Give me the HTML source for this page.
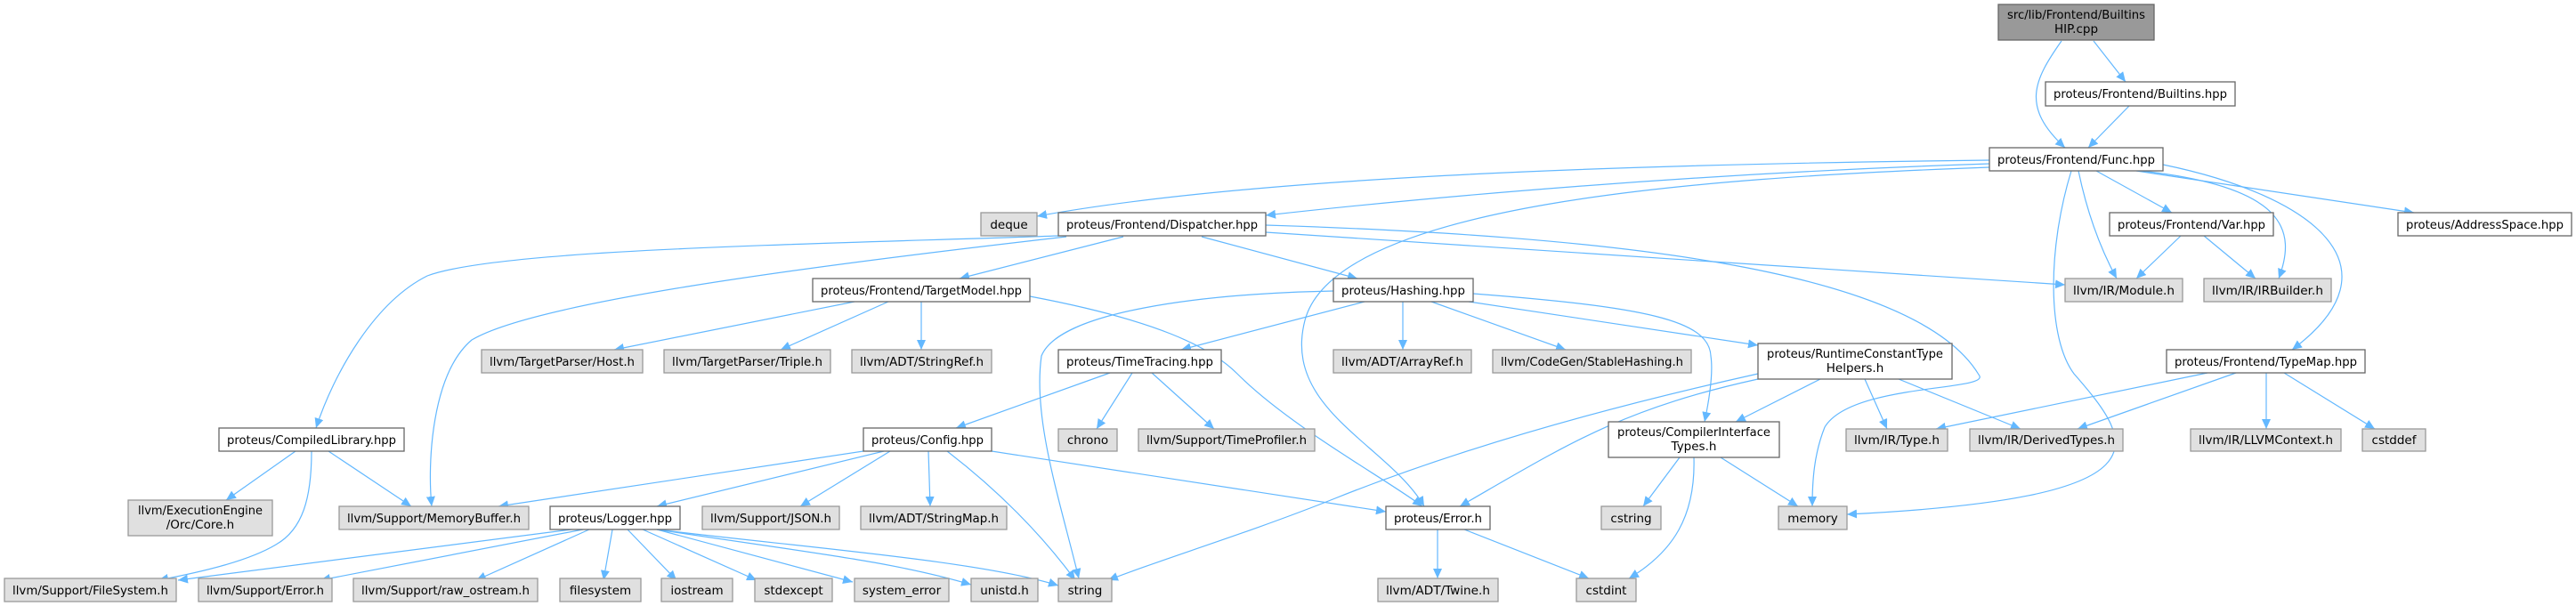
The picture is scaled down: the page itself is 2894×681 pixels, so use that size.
<!DOCTYPE html>
<html><head><meta charset="utf-8"><style>
html,body{margin:0;padding:0;background:#fff;}
svg{display:block;}
text{font-family:"DejaVu Sans","Liberation Sans",sans-serif;font-size:13.5px;fill:#000;}
.w{fill:#fff;stroke:#666;stroke-width:1.3;}
.g{fill:#e0e0e0;stroke:#999;stroke-width:1.3;}
.d{fill:#999;stroke:#666;stroke-width:1.3;}
.e{fill:none;stroke:#63b8ff;stroke-width:1.2;marker-end:url(#a);}
</style></head><body>
<svg width="2894" height="681" viewBox="0 0 2894 681" xmlns="http://www.w3.org/2000/svg">
<defs><marker id="a" markerUnits="userSpaceOnUse" markerWidth="12" markerHeight="10" refX="11" refY="5" orient="auto"><path d="M0,0 L11,5 L0,10 z" fill="#63b8ff"/></marker></defs>

<!-- edges -->
<path class="e" d="M2316,46 C2285,90 2270,120 2320,166"/>
<path class="e" d="M2352,46 L2388,92"/>
<path class="e" d="M2392,119 L2346,166"/>
<path class="e" d="M2235,180 C1800,185 1400,200 1165,243"/>
<path class="e" d="M2235,184 C1900,195 1600,222 1422,242"/>
<path class="e" d="M2235,188 C1900,200 1500,230 1466,360 C1440,460 1560,500 1600,569"/>
<path class="e" d="M2335,192 C2345,240 2360,280 2378,313"/>
<path class="e" d="M2327,192 C2300,280 2300,380 2330,420 C2400,500 2440,560 2075,578"/>
<path class="e" d="M2355,192 L2440,239"/>
<path class="e" d="M2405,192 C2570,210 2580,260 2560,313"/>
<path class="e" d="M2400,192 L2712,239"/>
<path class="e" d="M2430,185 C2600,220 2700,300 2575,393"/>
<path class="e" d="M2450,265 L2400,313"/>
<path class="e" d="M2476,265 L2534,313"/>

<path class="e" d="M1189,265 C900,275 560,280 480,310 C420,340 375,420 355,481"/>
<path class="e" d="M1198,266 C900,300 600,340 530,382 C485,420 480,520 485,569"/>
<path class="e" d="M1262,266 L1078,313"/>
<path class="e" d="M1350,266 L1525,313"/>
<path class="e" d="M1422,261 L2320,320"/>
<path class="e" d="M1422,253 C1800,265 2150,300 2223,421 C2240,440 2080,430 2050,480 C2038,510 2036,540 2036,569"/>

<path class="e" d="M960,339 L690,393"/>
<path class="e" d="M998,339 L877,393"/>
<path class="e" d="M1035,339 L1035,393"/>
<path class="e" d="M1157,333 C1300,360 1360,390 1390,420 C1450,480 1560,540 1598,569"/>

<path class="e" d="M1498,327 C1350,330 1190,350 1170,400 C1160,470 1190,560 1212,650"/>
<path class="e" d="M1533,339 L1327,393"/>
<path class="e" d="M1576,339 L1576,393"/>
<path class="e" d="M1608,339 L1759,393"/>
<path class="e" d="M1650,339 L1975,388"/>
<path class="e" d="M1655,330 C1850,345 1920,360 1922,400 C1925,420 1920,450 1915,474"/>

<path class="e" d="M1247,419 L1074,481"/>
<path class="e" d="M1272,419 L1232,482"/>
<path class="e" d="M1294,419 L1364,482"/>

<path class="e" d="M1975,420 C1750,470 1600,520 1500,560 C1400,600 1300,630 1245,652"/>
<path class="e" d="M1975,426 C1820,460 1760,500 1640,569"/>
<path class="e" d="M2045,426 L1950,474"/>
<path class="e" d="M2095,426 L2120,482"/>
<path class="e" d="M2133,426 L2270,482"/>

<path class="e" d="M2480,419 L2175,482"/>
<path class="e" d="M2512,419 L2334,482"/>
<path class="e" d="M2546,419 L2546,482"/>
<path class="e" d="M2566,419 L2668,482"/>

<path class="e" d="M1887,514 L1846,569"/>
<path class="e" d="M1903,514 C1905,580 1880,620 1830,650"/>
<path class="e" d="M1933,514 L2020,569"/>

<path class="e" d="M332,507 L254,562"/>
<path class="e" d="M369,507 L462,569"/>
<path class="e" d="M350,507 C350,560 340,595 310,612 C280,630 230,642 178,652"/>

<path class="e" d="M970,507 L560,569"/>
<path class="e" d="M993,507 L738,569"/>
<path class="e" d="M1000,507 L899,569"/>
<path class="e" d="M1043,507 L1045,569"/>
<path class="e" d="M1064,507 C1120,550 1170,600 1208,652"/>
<path class="e" d="M1114,507 L1557,575"/>

<path class="e" d="M642,595 L200,652"/>
<path class="e" d="M655,595 L360,652"/>
<path class="e" d="M662,595 L535,652"/>
<path class="e" d="M688,595 L678,652"/>
<path class="e" d="M705,595 L760,652"/>
<path class="e" d="M722,595 L850,652"/>
<path class="e" d="M738,595 L958,654"/>
<path class="e" d="M738,595 C900,620 1000,630 1091,657"/>
<path class="e" d="M738,595 C900,615 1100,630 1189,658"/>

<path class="e" d="M1615,595 L1615,650"/>
<path class="e" d="M1645,595 L1785,650"/>

<!-- nodes -->
<g>
<rect class="d" x="2245" y="5" width="175" height="40"/>
<text x="2332.5" y="21" text-anchor="middle" textLength="155" lengthAdjust="spacingAndGlyphs">src/lib/Frontend/Builtins</text>
<text x="2332.5" y="37" text-anchor="middle">HIP.cpp</text>

<rect class="w" x="2298" y="92" width="213" height="27"/><text x="2404.5" y="110" text-anchor="middle" textLength="195" lengthAdjust="spacingAndGlyphs">proteus/Frontend/Builtins.hpp</text>
<rect class="w" x="2235" y="166" width="195" height="26"/><text x="2332.5" y="184" text-anchor="middle" textLength="177" lengthAdjust="spacingAndGlyphs">proteus/Frontend/Func.hpp</text>

<rect class="g" x="1102" y="239" width="63" height="26"/><text x="1133.5" y="257" text-anchor="middle">deque</text>
<rect class="w" x="1189" y="239" width="233" height="26"/><text x="1305.5" y="257" text-anchor="middle" textLength="215" lengthAdjust="spacingAndGlyphs">proteus/Frontend/Dispatcher.hpp</text>
<rect class="w" x="2370" y="239" width="184" height="26"/><text x="2462" y="257" text-anchor="middle" textLength="166" lengthAdjust="spacingAndGlyphs">proteus/Frontend/Var.hpp</text>
<rect class="w" x="2694" y="239" width="195" height="26"/><text x="2791.5" y="257" text-anchor="middle" textLength="177" lengthAdjust="spacingAndGlyphs">proteus/AddressSpace.hpp</text>

<rect class="w" x="913" y="313" width="244" height="26"/><text x="1035" y="331" text-anchor="middle" textLength="226" lengthAdjust="spacingAndGlyphs">proteus/Frontend/TargetModel.hpp</text>
<rect class="w" x="1498" y="313" width="157" height="26"/><text x="1576.5" y="331" text-anchor="middle" textLength="139" lengthAdjust="spacingAndGlyphs">proteus/Hashing.hpp</text>
<rect class="g" x="2320" y="313" width="132" height="26"/><text x="2386" y="331" text-anchor="middle" textLength="114" lengthAdjust="spacingAndGlyphs">llvm/IR/Module.h</text>
<rect class="g" x="2476" y="313" width="143" height="26"/><text x="2547.5" y="331" text-anchor="middle" textLength="125" lengthAdjust="spacingAndGlyphs">llvm/IR/IRBuilder.h</text>

<rect class="g" x="541" y="393" width="181" height="26"/><text x="631.5" y="411" text-anchor="middle" textLength="163" lengthAdjust="spacingAndGlyphs">llvm/TargetParser/Host.h</text>
<rect class="g" x="746" y="393" width="187" height="26"/><text x="839.5" y="411" text-anchor="middle" textLength="169" lengthAdjust="spacingAndGlyphs">llvm/TargetParser/Triple.h</text>
<rect class="g" x="957" y="393" width="157" height="26"/><text x="1035.5" y="411" text-anchor="middle" textLength="139" lengthAdjust="spacingAndGlyphs">llvm/ADT/StringRef.h</text>
<rect class="w" x="1189" y="393" width="183" height="26"/><text x="1280.5" y="411" text-anchor="middle" textLength="165" lengthAdjust="spacingAndGlyphs">proteus/TimeTracing.hpp</text>
<rect class="g" x="1498" y="393" width="155" height="26"/><text x="1575.5" y="411" text-anchor="middle" textLength="137" lengthAdjust="spacingAndGlyphs">llvm/ADT/ArrayRef.h</text>
<rect class="g" x="1677" y="393" width="223" height="26"/><text x="1788.5" y="411" text-anchor="middle" textLength="205" lengthAdjust="spacingAndGlyphs">llvm/CodeGen/StableHashing.h</text>
<rect class="w" x="1975" y="386" width="218" height="40"/>
<text x="2084" y="402" text-anchor="middle" textLength="198" lengthAdjust="spacingAndGlyphs">proteus/RuntimeConstantType</text>
<text x="2084" y="418" text-anchor="middle">Helpers.h</text>
<rect class="w" x="2434" y="393" width="223" height="26"/><text x="2545.5" y="411" text-anchor="middle" textLength="205" lengthAdjust="spacingAndGlyphs">proteus/Frontend/TypeMap.hpp</text>

<rect class="w" x="246" y="481" width="208" height="26"/><text x="350" y="499" text-anchor="middle" textLength="190" lengthAdjust="spacingAndGlyphs">proteus/CompiledLibrary.hpp</text>
<rect class="w" x="970" y="481" width="144" height="26"/><text x="1042" y="499" text-anchor="middle" textLength="126" lengthAdjust="spacingAndGlyphs">proteus/Config.hpp</text>
<rect class="g" x="1189" y="482" width="66" height="25"/><text x="1222" y="499" text-anchor="middle">chrono</text>
<rect class="g" x="1279" y="482" width="198" height="25"/><text x="1378" y="499" text-anchor="middle" textLength="180" lengthAdjust="spacingAndGlyphs">llvm/Support/TimeProfiler.h</text>
<rect class="w" x="1807" y="474" width="192" height="40"/>
<text x="1903" y="490" text-anchor="middle" textLength="172" lengthAdjust="spacingAndGlyphs">proteus/CompilerInterface</text>
<text x="1903" y="506" text-anchor="middle">Types.h</text>
<rect class="g" x="2074" y="482" width="114" height="25"/><text x="2131" y="499" text-anchor="middle" textLength="96" lengthAdjust="spacingAndGlyphs">llvm/IR/Type.h</text>
<rect class="g" x="2213" y="482" width="172" height="25"/><text x="2299" y="499" text-anchor="middle" textLength="154" lengthAdjust="spacingAndGlyphs">llvm/IR/DerivedTypes.h</text>
<rect class="g" x="2461" y="482" width="169" height="25"/><text x="2545.5" y="499" text-anchor="middle" textLength="151" lengthAdjust="spacingAndGlyphs">llvm/IR/LLVMContext.h</text>
<rect class="g" x="2654" y="482" width="71" height="25"/><text x="2689.5" y="499" text-anchor="middle">cstddef</text>

<rect class="g" x="144" y="562" width="162" height="40"/>
<text x="225" y="578" text-anchor="middle" textLength="140" lengthAdjust="spacingAndGlyphs">llvm/ExecutionEngine</text>
<text x="225" y="594" text-anchor="middle">/Orc/Core.h</text>
<rect class="g" x="381" y="569" width="213" height="26"/><text x="487.5" y="587" text-anchor="middle" textLength="195" lengthAdjust="spacingAndGlyphs">llvm/Support/MemoryBuffer.h</text>
<rect class="w" x="618" y="569" width="146" height="26"/><text x="691" y="587" text-anchor="middle" textLength="128" lengthAdjust="spacingAndGlyphs">proteus/Logger.hpp</text>
<rect class="g" x="789" y="569" width="154" height="26"/><text x="866" y="587" text-anchor="middle" textLength="136" lengthAdjust="spacingAndGlyphs">llvm/Support/JSON.h</text>
<rect class="g" x="967" y="569" width="164" height="26"/><text x="1049" y="587" text-anchor="middle" textLength="146" lengthAdjust="spacingAndGlyphs">llvm/ADT/StringMap.h</text>
<rect class="w" x="1557" y="569" width="117" height="26"/><text x="1615.5" y="587" text-anchor="middle" textLength="99" lengthAdjust="spacingAndGlyphs">proteus/Error.h</text>
<rect class="g" x="1799" y="569" width="67" height="26"/><text x="1832.5" y="587" text-anchor="middle">cstring</text>
<rect class="g" x="1998" y="569" width="77" height="26"/><text x="2036.5" y="587" text-anchor="middle">memory</text>

<rect class="g" x="5" y="650" width="193" height="26"/><text x="101.5" y="668" text-anchor="middle" textLength="175" lengthAdjust="spacingAndGlyphs">llvm/Support/FileSystem.h</text>
<rect class="g" x="223" y="650" width="150" height="26"/><text x="298" y="668" text-anchor="middle" textLength="132" lengthAdjust="spacingAndGlyphs">llvm/Support/Error.h</text>
<rect class="g" x="397" y="650" width="207" height="26"/><text x="500.5" y="668" text-anchor="middle" textLength="189" lengthAdjust="spacingAndGlyphs">llvm/Support/raw_ostream.h</text>
<rect class="g" x="629" y="650" width="91" height="26"/><text x="674.5" y="668" text-anchor="middle">filesystem</text>
<rect class="g" x="743" y="650" width="80" height="26"/><text x="783" y="668" text-anchor="middle">iostream</text>
<rect class="g" x="848" y="650" width="87" height="26"/><text x="891.5" y="668" text-anchor="middle">stdexcept</text>
<rect class="g" x="960" y="650" width="106" height="26"/><text x="1013" y="668" text-anchor="middle">system_error</text>
<rect class="g" x="1091" y="650" width="75" height="26"/><text x="1128.5" y="668" text-anchor="middle">unistd.h</text>
<rect class="g" x="1189" y="650" width="60" height="26"/><text x="1219" y="668" text-anchor="middle">string</text>
<rect class="g" x="1548" y="650" width="135" height="26"/><text x="1615.5" y="668" text-anchor="middle" textLength="117" lengthAdjust="spacingAndGlyphs">llvm/ADT/Twine.h</text>
<rect class="g" x="1771" y="650" width="67" height="26"/><text x="1804.5" y="668" text-anchor="middle">cstdint</text>
</g>
</svg>
</body></html>
